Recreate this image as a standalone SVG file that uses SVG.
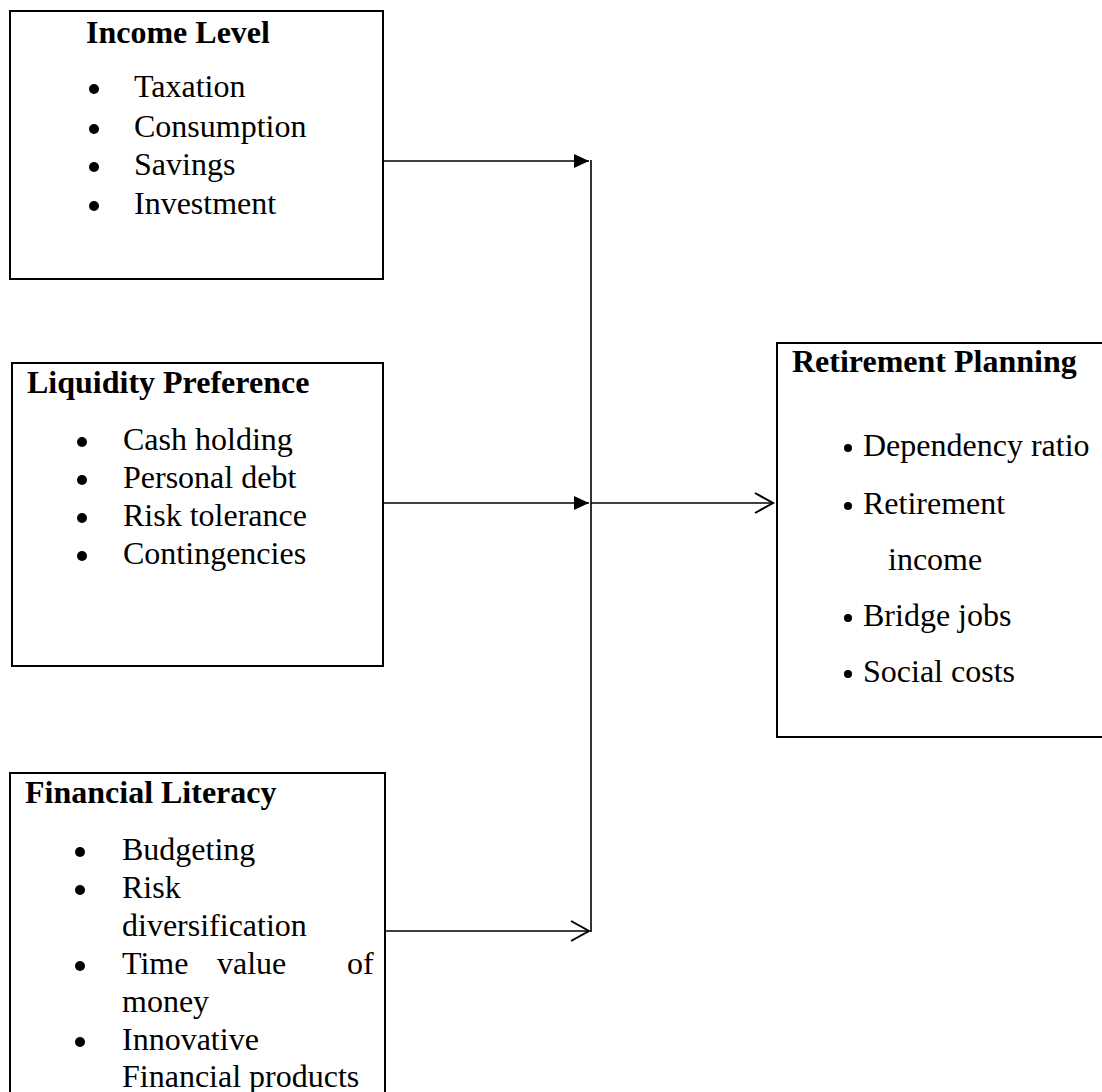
<svg xmlns="http://www.w3.org/2000/svg" width="1102" height="1092" viewBox="0 0 1102 1092">
<style>
.box{fill:#fff;stroke:#000;stroke-width:2}
.t{font-family:"Liberation Serif","Times New Roman",serif;font-size:32px;fill:#000}
.h{font-family:"Liberation Serif","Times New Roman",serif;font-size:32px;font-weight:bold;fill:#000}
.c{stroke:#000;stroke-width:1.6;fill:none}
.dot{fill:#000}
</style>
<defs>
<marker id="fa" markerUnits="userSpaceOnUse" markerWidth="16" markerHeight="16" refX="15" refY="7" orient="auto" overflow="visible">
<path d="M0,0 L15,7 L0,14 z" fill="#000"/>
</marker>
<marker id="oa" markerUnits="userSpaceOnUse" markerWidth="20" markerHeight="22" refX="18" refY="10" orient="auto" overflow="visible">
<path d="M0,0 L18,10 L0,20" fill="none" stroke="#000" stroke-width="2"/>
</marker>
</defs>
<rect width="1102" height="1092" fill="#fff"/>
<g id="connectors">
<line class="c" x1="591" y1="160" x2="591" y2="932" stroke-width="1.2"/>
<line class="c" x1="383" y1="161" x2="589" y2="161" marker-end="url(#fa)"/>
<line class="c" x1="383" y1="503" x2="589" y2="503" marker-end="url(#fa)"/>
<line class="c" x1="385" y1="931" x2="589" y2="931" marker-end="url(#oa)"/>
<line class="c" x1="591" y1="503" x2="773" y2="503" marker-end="url(#oa)"/>
</g>
<g id="income-level">
<rect class="box" x="10" y="11" width="373" height="268"/>
<text class="h" x="86" y="43">Income Level</text>
<circle class="dot" cx="94" cy="89" r="5"/><text class="t" x="134" y="97">Taxation</text>
<circle class="dot" cx="94" cy="129" r="5"/><text class="t" x="134" y="137">Consumption</text>
<circle class="dot" cx="94" cy="167" r="5"/><text class="t" x="134" y="175">Savings</text>
<circle class="dot" cx="94" cy="206" r="5"/><text class="t" x="134" y="214">Investment</text>
</g>
<g id="liquidity-preference">
<rect class="box" x="12" y="363" width="371" height="303"/>
<text class="h" x="27" y="393">Liquidity Preference</text>
<circle class="dot" cx="82" cy="442" r="5"/><text class="t" x="123" y="450">Cash holding</text>
<circle class="dot" cx="82" cy="480" r="5"/><text class="t" x="123" y="488">Personal debt</text>
<circle class="dot" cx="82" cy="518" r="5"/><text class="t" x="123" y="526">Risk tolerance</text>
<circle class="dot" cx="82" cy="556" r="5"/><text class="t" x="123" y="564">Contingencies</text>
</g>
<g id="financial-literacy">
<rect class="box" x="10" y="773" width="375" height="330"/>
<text class="h" x="25" y="803">Financial Literacy</text>
<circle class="dot" cx="80" cy="852" r="5"/><text class="t" x="122" y="860">Budgeting</text>
<circle class="dot" cx="80" cy="890" r="5"/><text class="t" x="122" y="898">Risk</text>
<text class="t" x="122" y="936">diversification</text>
<circle class="dot" cx="80" cy="966" r="5"/><text class="t" y="974"><tspan x="122">Time</tspan><tspan x="217">value</tspan><tspan x="347">of</tspan></text>
<text class="t" x="122" y="1012">money</text>
<circle class="dot" cx="80" cy="1042" r="5"/><text class="t" x="122" y="1050">Innovative</text>
<text class="t" x="122" y="1087">Financial products</text>
</g>
<g id="retirement-planning">
<rect class="box" x="777" y="343" width="340" height="394"/>
<text class="h" x="792" y="372">Retirement Planning</text>
<circle class="dot" cx="848" cy="448" r="4"/><text class="t" x="863" y="456">Dependency ratio</text>
<circle class="dot" cx="848" cy="506" r="4"/><text class="t" x="863" y="514">Retirement</text>
<text class="t" x="888" y="570">income</text>
<circle class="dot" cx="848" cy="618" r="4"/><text class="t" x="863" y="626">Bridge jobs</text>
<circle class="dot" cx="848" cy="674" r="4"/><text class="t" x="863" y="682">Social costs</text>
</g>
</svg>
